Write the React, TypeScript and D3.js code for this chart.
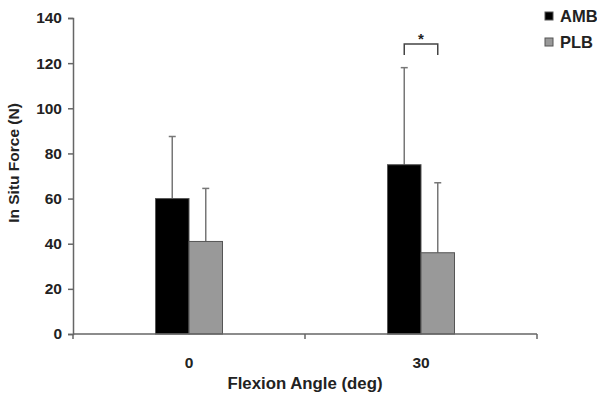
import React, { useRef, useEffect } from "react";
import * as d3 from "d3";

const categories = ["0", "30"];
const seriesNames = ["AMB", "PLB"];
const seriesColors = ["#000000", "#999999"];
const ambMeans = [60, 75];
const ambErrors = [27.5, 43];
const plbMeans = [41, 36];
const plbErrors = [23.5, 31];
const yTicks = [0, 20, 40, 60, 80, 100, 120, 140];

const W = 597;
const H = 395;

const App = () => {
  const svgRef = useRef<SVGSVGElement>(null);

  useEffect(() => {
    const svg = d3.select(svgRef.current);
    svg.selectAll("*").remove();

    const margin = { top: 18, right: 60, bottom: 61, left: 73 };
    const width = W - margin.left - margin.right;
    const height = H - margin.top - margin.bottom;
    const font = "Arial, 'Liberation Sans', sans-serif";
    const axisColor = "#666";

    const g = svg.append("g").attr("transform", `translate(${margin.left},${margin.top})`);

    const x = d3.scaleBand().domain(categories).range([0, width]);
    const inner = d3.scaleBand().domain(seriesNames).range([-33.5, 33.5]);
    const y = d3.scaleLinear().domain([0, 140]).range([height, 0]);

    const rows = categories.map((c, i) => [
      { cat: c, s: "AMB", v: ambMeans[i], e: ambErrors[i], color: seriesColors[0] },
      { cat: c, s: "PLB", v: plbMeans[i], e: plbErrors[i], color: seriesColors[1] },
    ]).flat();

    // error bars (upper only)
    rows.forEach(d => {
      const cx = x(d.cat)! + x.bandwidth() / 2 + inner(d.s)! + inner.bandwidth() / 2;
      g.append("line")
        .attr("x1", cx).attr("x2", cx)
        .attr("y1", y(d.v)).attr("y2", y(d.v + d.e))
        .attr("stroke", "#777").attr("stroke-width", 1.5);
      g.append("line")
        .attr("x1", cx - 3.5).attr("x2", cx + 3.5)
        .attr("y1", y(d.v + d.e)).attr("y2", y(d.v + d.e))
        .attr("stroke", "#777").attr("stroke-width", 1.5);
    });

    // bars
    g.selectAll("rect.bar")
      .data(rows)
      .join("rect")
      .attr("class", "bar")
      .attr("x", d => x(d.cat)! + x.bandwidth() / 2 + inner(d.s)!)
      .attr("y", d => y(d.v))
      .attr("width", inner.bandwidth())
      .attr("height", d => height - y(d.v))
      .attr("fill", d => d.color)
      .attr("stroke", "#555")
      .attr("stroke-width", 1);

    // y axis
    const yAxis = g.append("g").call(d3.axisLeft(y).tickValues(yTicks).tickSize(5).tickPadding(6));
    yAxis.select(".domain").attr("stroke", axisColor).attr("stroke-width", 1.5);
    yAxis.selectAll(".tick line").attr("stroke", axisColor).attr("stroke-width", 1.5);
    yAxis.selectAll("text")
      .attr("fill", "#222")
      .style("font-family", font)
      .style("font-size", "15.5px")
      .style("font-weight", "bold");

    // x axis: ticks between categories
    const xAxisG = g.append("g").attr("transform", `translate(0,${height})`);
    xAxisG.append("line")
      .attr("x1", 0).attr("x2", width)
      .attr("stroke", axisColor).attr("stroke-width", 1.5);
    [0, 1, 2].forEach(i => {
      const tx = i * x.step();
      xAxisG.append("line")
        .attr("x1", tx).attr("x2", tx).attr("y1", 0).attr("y2", 5)
        .attr("stroke", axisColor).attr("stroke-width", 1.5);
    });
    xAxisG.selectAll("text.cat")
      .data(categories)
      .join("text")
      .attr("class", "cat")
      .attr("x", d => x(d)! + x.bandwidth() / 2)
      .attr("y", 34)
      .attr("text-anchor", "middle")
      .attr("fill", "#222")
      .style("font-family", font)
      .style("font-size", "15.5px")
      .style("font-weight", "bold")
      .text(d => d);

    // axis titles
    g.append("text")
      .attr("x", width / 2)
      .attr("y", height + 55)
      .attr("text-anchor", "middle")
      .attr("fill", "#222")
      .style("font-family", font)
      .style("font-size", "16.8px")
      .style("font-weight", "bold")
      .text("Flexion Angle (deg)");

    g.append("text")
      .attr("transform", `translate(-54,${height / 2 - 13}) rotate(-90)`)
      .attr("text-anchor", "middle")
      .attr("fill", "#222")
      .style("font-family", font)
      .style("font-size", "15.5px")
      .style("font-weight", "bold")
      .text("In Situ Force (N)");

    // significance bracket at 30 deg
    const bx0 = x("30")! + x.bandwidth() / 2 + inner("AMB")! + inner.bandwidth() / 2;
    const bx1 = x("30")! + x.bandwidth() / 2 + inner("PLB")! + inner.bandwidth() / 2;
    const by = y(128.5);
    g.append("path")
      .attr("d", `M${bx0},${by + 11}V${by}H${bx1}V${by + 11}`)
      .attr("fill", "none")
      .attr("stroke", "#444")
      .attr("stroke-width", 1.5);
    g.append("text")
      .attr("x", (bx0 + bx1) / 2)
      .attr("y", by)
      .attr("text-anchor", "middle")
      .attr("fill", "#222")
      .style("font-family", font)
      .style("font-size", "15px")
      .style("font-weight", "bold")
      .text("*");

    // legend
    const legend = svg.append("g").attr("transform", "translate(545,10)");
    seriesNames.forEach((name, i) => {
      const row = legend.append("g").attr("transform", `translate(0,${i * 26})`);
      row.append("rect")
        .attr("x", 0).attr("y", 2)
        .attr("width", 8).attr("height", 8)
        .attr("fill", seriesColors[i])
        .attr("stroke", "#555");
      row.append("text")
        .attr("x", 15).attr("y", 12)
        .attr("fill", "#222")
        .style("font-family", font)
        .style("font-size", "16.5px")
        .style("font-weight", "bold")
        .text(name);
    });
  }, []);

  return (
    <div style={{ position: "absolute", left: 0, top: 0 }}>
      <svg ref={svgRef} width={W} height={H} style={{ display: "block", background: "#fff" }} />
    </div>
  );
};

export default App;
